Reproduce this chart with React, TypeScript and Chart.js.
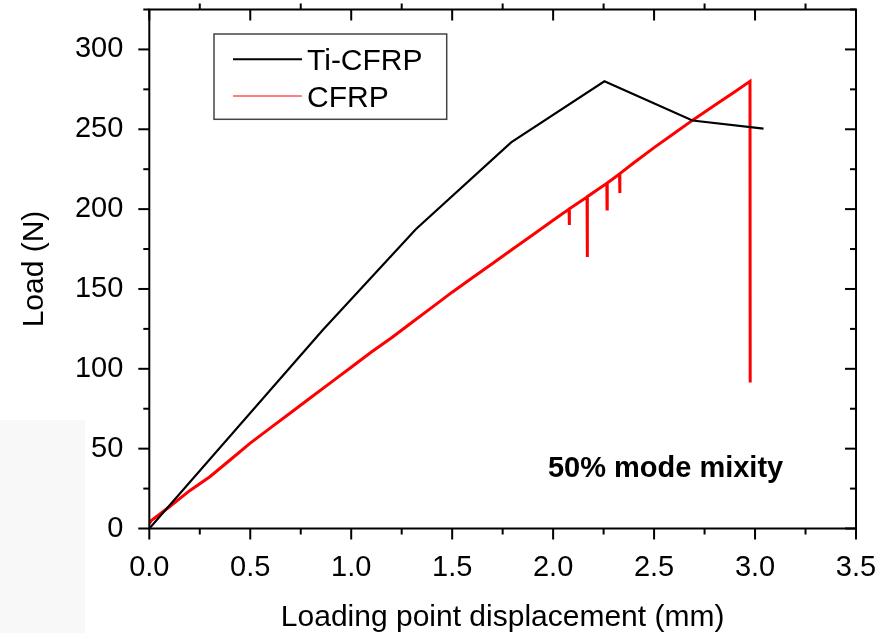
import React, { useEffect, useRef } from 'react';
import { Chart, registerables } from 'chart.js';

Chart.register(...registerables);

const FONT = "'Liberation Sans', Arial, Helvetica, sans-serif";

// Ti-CFRP (black polyline)
const tiX = [0, 0.858, 1.32, 1.792, 2.254, 2.69, 3.042];
const tiY = [0, 124.2, 187.4, 241.8, 280, 255.5, 250.4];

// CFRP (red, noisy trace with load drops)
const cfrpX = [
  0, 0.01, 0.1, 0.2, 0.3, 0.4, 0.5, 0.6, 0.7, 0.8, 0.9, 1.0, 1.1, 1.2, 1.3, 1.4,
  1.5, 1.6, 1.7, 1.8, 1.9, 2.0, 2.079, 2.08, 2.081, 2.168, 2.169, 2.17, 2.266,
  2.267, 2.268, 2.329, 2.33, 2.331, 2.4, 2.5, 2.6, 2.7, 2.8, 2.9, 2.975, 2.976,
];
const cfrpY = [
  3, 5, 13.6, 23.7, 32.4, 42.9, 53.5, 63, 72.5, 82, 91.5, 101, 110.5, 119.5, 129,
  138.5, 148, 157, 166, 175, 184, 193, 200, 190, 200.2, 207.6, 170, 207.8, 216.2,
  200, 216.4, 222, 210, 222.2, 229, 238.5, 247.5, 256.5, 265, 273.5, 280, 91.5,
];

const seriesNames = ['Ti-CFRP', 'CFRP'];
const seriesColors = ['#000000', '#ff0000'];

const xMajorTicks = [0, 0.5, 1.0, 1.5, 2.0, 2.5, 3.0, 3.5];
const xMinorTicks = [0.25, 0.75, 1.25, 1.75, 2.25, 2.75, 3.25];
const yMajorTicks = [0, 50, 100, 150, 200, 250, 300];
const yMinorTicks = [25, 75, 125, 175, 225, 275, 325];

const xTitle = 'Loading point displacement (mm)';
const yTitle = 'Load (N)';
const annotationText = '50% mode mixity';
const annotationAt = { x: 1.974, y: 32.5 };

const framePlugin = {
  id: 'frameTicks',
  beforeDraw(chart: any) {
    const ctx = chart.ctx;
    ctx.save();
    ctx.fillStyle = '#ffffff';
    ctx.fillRect(0, 0, chart.width, chart.height);
    ctx.fillStyle = '#f8f8f8';
    ctx.fillRect(0, 420, 85, 213);
    ctx.restore();
  },
  afterDatasetsDraw(chart: any) {
    const { ctx, chartArea: a, scales } = chart;
    const xs = scales.x;
    const ys = scales.y;
    ctx.save();
    ctx.strokeStyle = '#000';
    ctx.lineWidth = 2;
    ctx.lineCap = 'butt';
    ctx.strokeRect(a.left, a.top, a.right - a.left, a.bottom - a.top);

    const seg = (x1: number, y1: number, x2: number, y2: number) => {
      ctx.beginPath();
      ctx.moveTo(x1, y1);
      ctx.lineTo(x2, y2);
      ctx.stroke();
    };
    xMajorTicks.forEach((v) => {
      const p = xs.getPixelForValue(v);
      seg(p, a.bottom, p, a.bottom + 11);
      seg(p, a.top, p, a.top + 11);
    });
    xMinorTicks.forEach((v) => {
      const p = xs.getPixelForValue(v);
      seg(p, a.bottom, p, a.bottom + 6);
      seg(p, a.top, p, a.top - 6);
    });
    yMajorTicks.forEach((v) => {
      const p = ys.getPixelForValue(v);
      seg(a.left - 11, p, a.left, p);
      seg(a.right - 11, p, a.right, p);
    });
    yMinorTicks.forEach((v) => {
      const p = ys.getPixelForValue(v);
      seg(a.left - 6, p, a.left, p);
      seg(a.right - 6, p, a.right, p);
    });

    // legend box
    ctx.strokeStyle = '#444';
    ctx.lineWidth = 1.5;
    ctx.strokeRect(214, 34, 232.7, 85.3);
    const rows = [59.3, 96];
    const baselines = [70, 106.7];
    const widths = [2, 1];
    ctx.font = `30px ${FONT}`;
    ctx.textBaseline = 'alphabetic';
    ctx.textAlign = 'left';
    seriesNames.forEach((name, i) => {
      ctx.strokeStyle = seriesColors[i];
      ctx.lineWidth = widths[i];
      seg(233, rows[i], 302, rows[i]);
      ctx.fillStyle = '#000';
      ctx.fillText(name, 307, baselines[i]);
    });

    // annotation
    ctx.font = `bold 29px ${FONT}`;
    ctx.fillStyle = '#000';
    ctx.fillText(
      annotationText,
      xs.getPixelForValue(annotationAt.x),
      ys.getPixelForValue(annotationAt.y)
    );
    ctx.restore();
  },
};

export default function App() {
  const ref = useRef<HTMLCanvasElement | null>(null);
  useEffect(() => {
    if (!ref.current) return;
    const chart = new Chart(ref.current, {
      type: 'scatter',
      data: {
        datasets: [
          {
            label: seriesNames[0],
            data: tiX.map((x, i) => ({ x, y: tiY[i] })),
            showLine: true,
            borderColor: seriesColors[0],
            borderWidth: 2.2,
            pointRadius: 0,
            tension: 0,
            fill: false,
          },
          {
            label: seriesNames[1],
            data: cfrpX.map((x, i) => ({ x, y: cfrpY[i] })),
            showLine: true,
            borderColor: seriesColors[1],
            borderWidth: 3,
            pointRadius: 0,
            tension: 0,
            fill: false,
          },
        ],
      },
      options: {
        animation: false,
        responsive: false,
        maintainAspectRatio: false,
        devicePixelRatio: 1,
        layout: { padding: { top: 9.5, right: 34, left: 0, bottom: 0 } },
        plugins: {
          legend: { display: false },
          tooltip: { enabled: false },
        },
        scales: {
          x: {
            type: 'linear',
            position: 'bottom',
            min: 0,
            max: 3.5,
            afterFit: (s: any) => {
              s.height = 104.5;
              s.paddingLeft = 0;
              s.paddingRight = 0;
              s.paddingTop = 0;
              s.paddingBottom = 0;
            },
            grid: { display: false },
            border: { display: false },
            ticks: {
              stepSize: 0.5,
              autoSkip: false,
              maxRotation: 0,
              padding: 14,
              color: '#000',
              font: { family: FONT, size: 29 },
              callback: (v: any) => Number(v).toFixed(1),
            },
            title: {
              display: true,
              text: xTitle,
              color: '#000',
              font: { family: FONT, size: 30, lineHeight: 1 },
              padding: { top: 0, bottom: 0 },
            },
          },
          y: {
            type: 'linear',
            min: 0,
            max: 325,
            afterFit: (s: any) => {
              s.width = 149.3;
              s.paddingLeft = 0;
              s.paddingRight = 0;
              s.paddingTop = 0;
              s.paddingBottom = 0;
            },
            grid: { display: false },
            border: { display: false },
            ticks: {
              stepSize: 50,
              includeBounds: false,
              autoSkip: false,
              padding: 18,
              color: '#000',
              font: { family: FONT, size: 29 },
            },
            title: {
              display: true,
              text: yTitle,
              color: '#000',
              font: { family: FONT, size: 30, lineHeight: 1 },
              padding: { top: 20, bottom: 0 },
            },
          },
        },
      } as any,
      plugins: [framePlugin],
    });
    return () => chart.destroy();
  }, []);
  return (
    <div style={{ position: 'absolute', left: 0, top: 0, width: 890, height: 633 }}>
      <canvas ref={ref} width={890} height={633} style={{ display: 'block' }} />
    </div>
  );
}
